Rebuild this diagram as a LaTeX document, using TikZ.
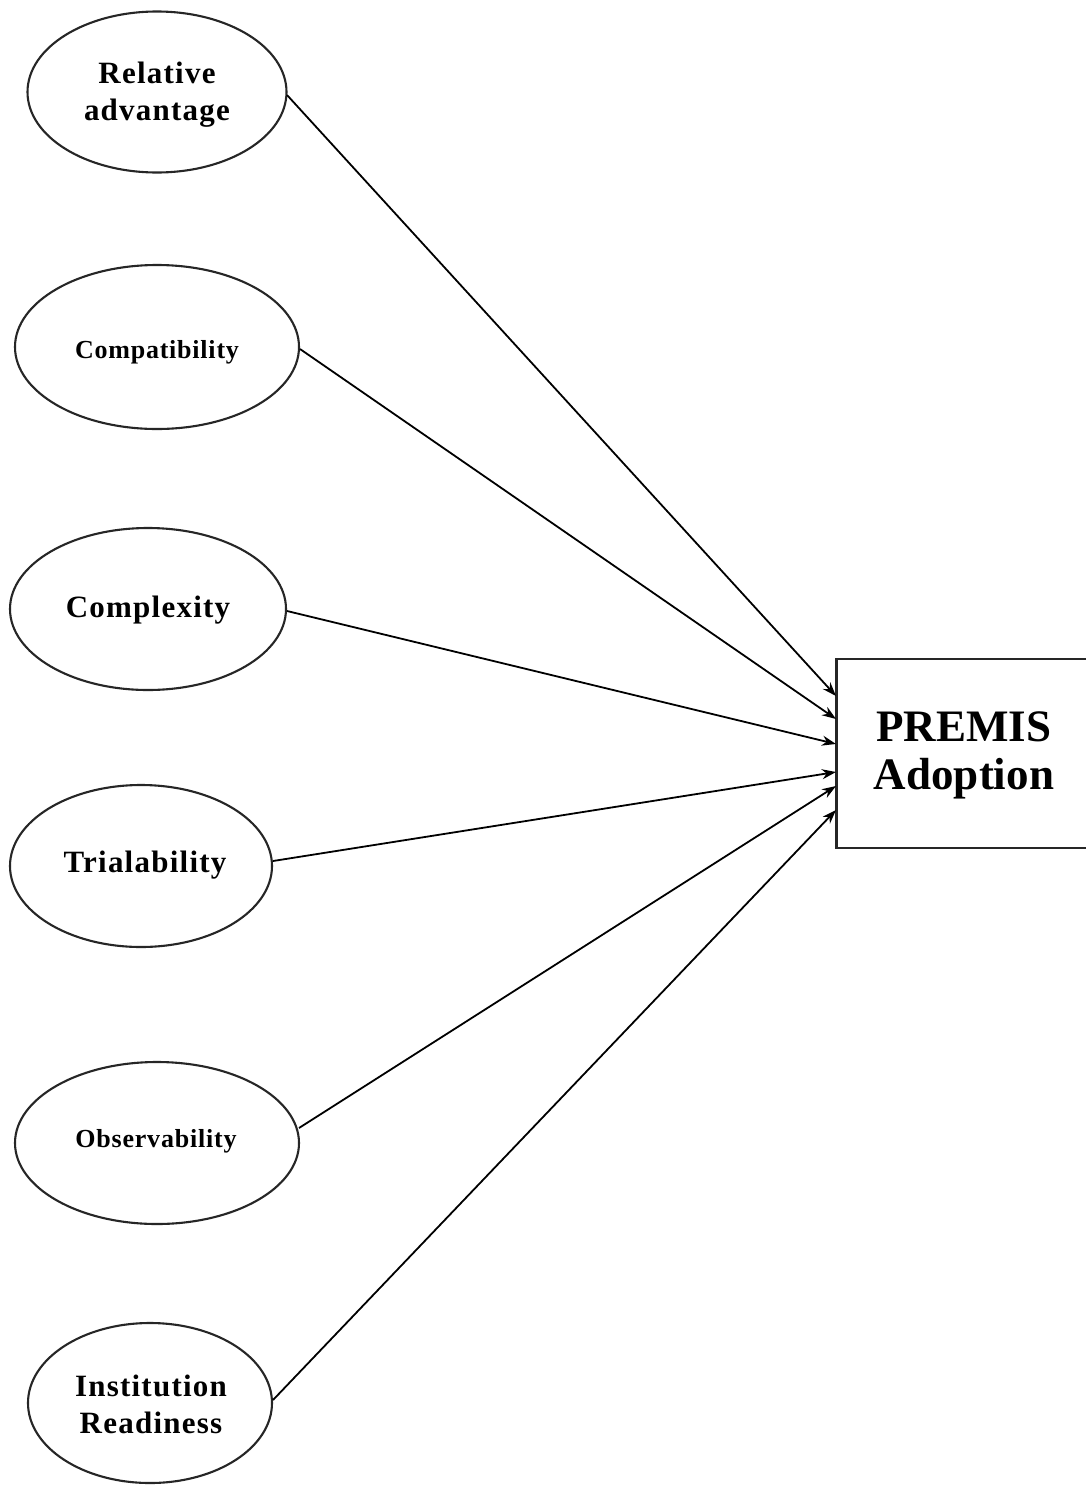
\documentclass[tikz,border=0pt]{standalone}
\usepackage{fontspec}
\setmainfont{Liberation Serif}
\newfontfamily\spacedfont[LetterSpace=4]{Liberation Serif}
\newfontfamily\spacedsmall[LetterSpace=3]{Liberation Serif}
\usetikzlibrary{arrows.meta,shapes.geometric}
\begin{document}
\begin{tikzpicture}[x=1pt,y=-1pt,
  factor/.style={draw=black!85,line width=2.1pt,fill=none},
  lbl/.style={font=\spacedfont\bfseries\fontsize{31}{37}\selectfont,align=center,inner sep=0pt,anchor=base},
  smalllbl/.style={font=\spacedsmall\bfseries\fontsize{26}{30}\selectfont,align=center,inner sep=0pt,anchor=base},
  arr/.style={line width=1.8pt,-{Stealth[length=14pt,width=10pt]}},
  outbox/.style={draw=black!85,line width=2.1pt}]
\useasboundingbox (0,0) rectangle (1086,1486);
\fill[white] (0,0) rectangle (1086,1486);
% ellipses
\draw[factor] (157,92) ellipse [x radius=129.5, y radius=80.5];
\draw[factor] (157,347) ellipse [x radius=142, y radius=82];
\draw[factor] (148,609) ellipse [x radius=138, y radius=81];
\draw[factor] (141,866) ellipse [x radius=131, y radius=81];
\draw[factor] (157,1143) ellipse [x radius=142, y radius=81];
\draw[factor] (150,1403) ellipse [x radius=122, y radius=80];
% labels
\node[lbl] (ra) at (157,120) {Relative\\advantage};
\node[smalllbl] (co) at (157,358) {Compatibility};
\node[lbl] (cx) at (148,617) {Complexity};
\node[lbl] (tr) at (145,872) {Trialability};
\node[smalllbl] (ob) at (156,1147) {Observability};
\node[lbl] (ir) at (151,1433) {Institution\\Readiness};
% anchors on ellipses
\coordinate (ra-e) at (287,95);
\coordinate (co-e) at (300,349);
\coordinate (cx-e) at (287,611);
\coordinate (tr-e) at (273,861);
\coordinate (ob-e) at (299,1128);
\coordinate (ir-e) at (273,1400);
% box
\draw[outbox] (836.5,659) rectangle (1095,848);
\node[font=\bfseries\fontsize{45}{48}\selectfont,align=center,inner sep=0pt,anchor=base] (pa) at (964,789) {PREMIS\\Adoption};
\coordinate (t1) at (836,696);
\coordinate (t2) at (836,719);
\coordinate (t3) at (836,744);
\coordinate (t4) at (836,772);
\coordinate (t5) at (836,786);
\coordinate (t6) at (836,810);
\draw[arr] (ra-e) -- (t1);
\draw[arr] (co-e) -- (t2);
\draw[arr] (cx-e) -- (t3);
\draw[arr] (tr-e) -- (t4);
\draw[arr] (ob-e) -- (t5);
\draw[arr] (ir-e) -- (t6);
\end{tikzpicture}
\end{document}
